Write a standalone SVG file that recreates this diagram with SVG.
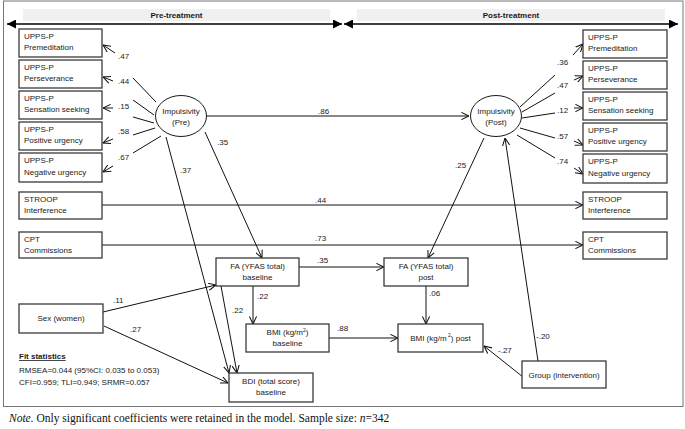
<svg xmlns="http://www.w3.org/2000/svg" width="685" height="429" viewBox="0 0 685 429">
<style>
text{font-family:"Liberation Sans",Arial,sans-serif;font-size:8px;fill:#1a1a1a}
.b{fill:#fff;stroke:#3a3a3a;stroke-width:1.3}
.c{fill:#fff;stroke:#1a1a1a;stroke-width:1}
.m{text-anchor:middle}
.h{font-weight:bold;text-anchor:middle}
.e line{stroke:#111;stroke-width:1;marker-end:url(#a)}
.e .n{marker-end:none}
.lbl{font-size:8px}
.note{font-family:"Liberation Serif","Times New Roman",serif;font-size:11.5px;fill:#111}
</style>
<defs>
<marker id="a" viewBox="0 0 10 10" refX="9.5" refY="5" markerWidth="8" markerHeight="8" markerUnits="userSpaceOnUse" orient="auto">
<path d="M0,0.5 L9.5,5 L0,9.5" fill="none" stroke="#111" stroke-width="1.3"/>
</marker>
<marker id="t" viewBox="0 0 10 10" refX="10" refY="5" markerWidth="11" markerHeight="9" markerUnits="userSpaceOnUse" orient="auto-start-reverse">
<path d="M0,0 L10,5 L0,10 Z" fill="#000"/>
</marker>
</defs>
<rect x="0" y="0" width="685" height="429" fill="#fff"/>
<rect x="3.5" y="1" width="679.5" height="405.5" fill="none" stroke="#777" stroke-width="1"/>
<g id="headers">
<rect x="23" y="9" width="307" height="12" fill="#f0f0f0"/>
<rect x="357" y="9" width="308" height="12" fill="#f0f0f0"/>
<text x="176.5" y="18" class="h">Pre-treatment</text>
<text x="511" y="18" class="h">Post-treatment</text>
<line x1="7" y1="24" x2="342" y2="24" stroke="#000" stroke-width="1.5" marker-start="url(#t)" marker-end="url(#t)"/>
<line x1="344" y1="24" x2="678" y2="24" stroke="#000" stroke-width="1.5" marker-start="url(#t)" marker-end="url(#t)"/>
</g>
<g id="connectors" class="e">
<line x1="206" y1="116" x2="469" y2="116"/>
<line x1="102" y1="205" x2="583" y2="205"/>
<line x1="102" y1="245" x2="583" y2="245"/>
<line x1="299" y1="267" x2="384" y2="267"/>
<line x1="329" y1="338" x2="398" y2="338"/>
<line x1="253" y1="286" x2="253" y2="324"/>
<line x1="426" y1="286" x2="426" y2="324"/>
<line x1="205" y1="132" x2="262" y2="258"/>
<line x1="166" y1="137" x2="229" y2="373"/>
<line x1="221" y1="286" x2="237" y2="373"/>
<line x1="484" y1="138" x2="428" y2="258"/>
<line x1="538" y1="361" x2="505" y2="138"/>
<line x1="523" y1="377" x2="484" y2="346"/>
<line x1="103" y1="312" x2="216" y2="285"/>
<line x1="104" y1="326" x2="228" y2="383"/>
<line class="n" x1="133" y1="78" x2="156" y2="102"/>
<line class="n" x1="133" y1="100" x2="154" y2="115"/>
<line class="n" x1="133" y1="117" x2="154" y2="123"/>
<line class="n" x1="133" y1="135" x2="155" y2="128"/>
<line class="n" x1="133" y1="153" x2="161" y2="136"/>
<line x1="115" y1="53" x2="103" y2="45"/>
<line x1="113" y1="81" x2="103" y2="77"/>
<line x1="113" y1="108" x2="103" y2="108"/>
<line x1="113" y1="139" x2="103" y2="143"/>
<line x1="113" y1="166" x2="103" y2="172"/>
<line class="n" x1="520" y1="107" x2="555" y2="75"/>
<line class="n" x1="522" y1="112" x2="555" y2="93"/>
<line class="n" x1="522" y1="118" x2="555" y2="113"/>
<line class="n" x1="520" y1="128" x2="555" y2="138"/>
<line class="n" x1="517" y1="135" x2="555" y2="158"/>
<line x1="573" y1="55" x2="583" y2="44"/>
<line x1="574" y1="80" x2="583" y2="76"/>
<line x1="574" y1="108" x2="583" y2="108"/>
<line x1="574" y1="141" x2="583" y2="145"/>
<line x1="574" y1="168" x2="583" y2="174"/>
</g>
<g id="edge-labels" class="lbl">
<text x="118" y="59">.47</text>
<text x="118" y="84">.44</text>
<text x="118" y="109">.15</text>
<text x="118" y="134">.58</text>
<text x="118" y="160">.67</text>
<text x="557" y="65">.36</text>
<text x="557" y="88">.47</text>
<text x="557" y="113">.12</text>
<text x="557" y="139">.57</text>
<text x="557" y="164">.74</text>
<text x="318" y="114">.86</text>
<text x="217" y="145">.35</text>
<text x="180" y="173">.37</text>
<text x="315" y="203">.44</text>
<text x="315" y="241">.73</text>
<text x="317" y="263">.35</text>
<text x="113" y="303">.11</text>
<text x="257" y="299">.22</text>
<text x="232" y="313">.22</text>
<text x="130" y="332">.27</text>
<text x="337" y="331">.88</text>
<text x="455" y="168">.25</text>
<text x="429" y="296">.06</text>
<text x="498" y="353">-.27</text>
<text x="536" y="339">-.20</text>
</g>
<g id="impulsivity-pre"><ellipse cx="181" cy="116" rx="25.5" ry="20.5" class="c"/><text x="181" y="114" class="m">Impulsivity</text><text x="181" y="125" class="m">(Pre)</text></g>
<g id="impulsivity-post"><ellipse cx="496" cy="116" rx="25.5" ry="20.5" class="c"/><text x="496" y="114" class="m">Impulsivity</text><text x="496" y="125" class="m">(Post)</text></g>
<g id="pre-premeditation"><rect x="19" y="29" width="83" height="28" class="b"/><text x="24" y="39">UPPS-P</text><text x="24" y="50">Premeditation</text></g>
<g id="pre-perseverance"><rect x="19" y="60" width="83" height="28" class="b"/><text x="24" y="70">UPPS-P</text><text x="24" y="81">Perseverance</text></g>
<g id="pre-sensation"><rect x="19" y="91" width="83" height="28" class="b"/><text x="24" y="101">UPPS-P</text><text x="24" y="112">Sensation seeking</text></g>
<g id="pre-positive"><rect x="19" y="122" width="83" height="28" class="b"/><text x="24" y="132">UPPS-P</text><text x="24" y="143">Positive urgency</text></g>
<g id="pre-negative"><rect x="19" y="153" width="83" height="29" class="b"/><text x="24" y="163">UPPS-P</text><text x="24" y="175">Negative urgency</text></g>
<g id="post-premeditation"><rect x="583" y="30" width="84" height="28" class="b"/><text x="588" y="40">UPPS-P</text><text x="588" y="51">Premeditation</text></g>
<g id="post-perseverance"><rect x="583" y="61" width="84" height="28" class="b"/><text x="588" y="71">UPPS-P</text><text x="588" y="82">Perseverance</text></g>
<g id="post-sensation"><rect x="583" y="92" width="84" height="28" class="b"/><text x="588" y="102">UPPS-P</text><text x="588" y="113">Sensation seeking</text></g>
<g id="post-positive"><rect x="583" y="123" width="84" height="28" class="b"/><text x="588" y="133">UPPS-P</text><text x="588" y="144">Positive urgency</text></g>
<g id="post-negative"><rect x="583" y="154" width="84" height="29" class="b"/><text x="588" y="164">UPPS-P</text><text x="588" y="176">Negative urgency</text></g>
<g id="stroop-pre"><rect x="19" y="192" width="83" height="27" class="b"/><text x="24" y="202">STROOP</text><text x="24" y="213">Interference</text></g>
<g id="stroop-post"><rect x="583" y="192" width="84" height="27" class="b"/><text x="588" y="202">STROOP</text><text x="588" y="213">Interference</text></g>
<g id="cpt-pre"><rect x="19" y="232" width="83" height="26" class="b"/><text x="24" y="242">CPT</text><text x="24" y="253">Commissions</text></g>
<g id="cpt-post"><rect x="583" y="232" width="84" height="27" class="b"/><text x="588" y="242">CPT</text><text x="588" y="253">Commissions</text></g>
<g id="fa-baseline"><rect x="216" y="258" width="83" height="28" class="b"/><text x="257.5" y="269" class="m">FA (YFAS total)</text><text x="257.5" y="280" class="m">baseline</text></g>
<g id="fa-post"><rect x="384" y="258" width="84" height="28" class="b"/><text x="426" y="269" class="m">FA (YFAS total)</text><text x="426" y="280" class="m">post</text></g>
<g id="bmi-baseline"><rect x="246" y="324" width="83" height="28" class="b"/><text x="287.5" y="335" class="m">BMI (kg/m<tspan font-size="5" dy="-3">2</tspan><tspan dy="3">)</tspan></text><text x="287.5" y="346" class="m">baseline</text></g>
<g id="bmi-post"><rect x="398" y="324" width="85" height="28" class="b"/><text x="440.5" y="341" class="m">BMI (kg/m<tspan font-size="5" dy="-4"> 2</tspan><tspan dy="4">) post</tspan></text></g>
<g id="sex"><rect x="19" y="304" width="84" height="29" class="b"/><text x="61" y="321" class="m">Sex (women)</text></g>
<g id="bdi"><rect x="229" y="373" width="84" height="29" class="b"/><text x="271" y="384" class="m">BDI (total score)</text><text x="271" y="395" class="m">baseline</text></g>
<g id="group"><rect x="522" y="361" width="84" height="27" class="b"/><text x="564" y="378" class="m">Group (intervention)</text></g>
<g id="fit">
<text x="19" y="359" font-weight="bold" text-decoration="underline">Fit statistics</text>
<text x="19" y="373">RMSEA=0.044 (95%CI: 0.035 to 0.053)</text>
<text x="19" y="385">CFI=0.959; TLI=0.949; SRMR=0.057</text>
</g>
<text x="9" y="422" class="note"><tspan font-style="italic">Note.</tspan> Only significant coefficients were retained in the model. Sample size: <tspan font-style="italic">n</tspan>=342</text>
</svg>
